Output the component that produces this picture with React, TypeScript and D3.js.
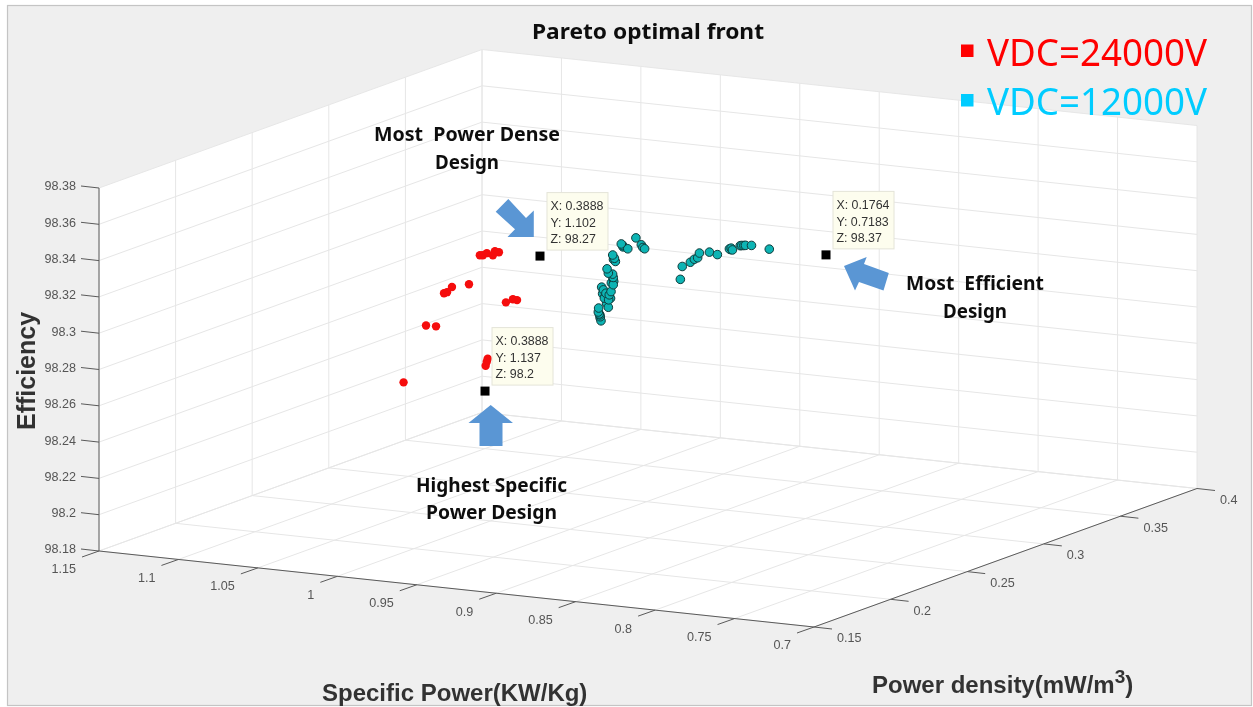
import React from "react";
import * as d3 from "d3";

// ---------- data: [Power density, Specific power, Efficiency] ----------
const specificPowerTicks = [1.15, 1.1, 1.05, 1, 0.95, 0.9, 0.85, 0.8, 0.75, 0.7];
const powerDensityTicks = [0.15, 0.2, 0.25, 0.3, 0.35, 0.4];
const efficiencyTicks = [98.18, 98.2, 98.22, 98.24, 98.26, 98.28, 98.3, 98.32, 98.34, 98.36, 98.38];

const redPoints: number[][] = [
  [0.3375, 1.1391, 98.2167],
  [0.345, 1.1322, 98.2464], [0.345, 1.1259, 98.2465],
  [0.35, 1.1257, 98.2632], [0.35, 1.1238, 98.264], [0.35, 1.1207, 98.2671],
  [0.355, 1.1148, 98.2677],
  [0.365, 1.1176, 98.2803], [0.365, 1.1157, 98.2805], [0.365, 1.1132, 98.2819],
  [0.365, 1.1094, 98.2811], [0.365, 1.1081, 98.2835], [0.365, 1.1056, 98.2831],
  [0.365, 1.1012, 98.2559], [0.365, 1.0968, 98.258], [0.365, 1.0942, 98.2578],
  [0.375, 1.1223, 98.2198], [0.375, 1.1229, 98.2181], [0.375, 1.1236, 98.2158],
];

const tealPoints: number[][] = [
  [0.305, 0.9825, 98.29], [0.305, 0.981, 98.2885], [0.305, 0.9795, 98.2875], [0.305, 0.98, 98.285], [0.305, 0.9775, 98.288],
  [0.305, 0.976, 98.2985], [0.305, 0.977, 98.2965], [0.305, 0.9755, 98.2975], [0.305, 0.984, 98.2765], [0.305, 0.9835, 98.275],
  [0.295, 0.966, 98.3135], [0.295, 0.9648, 98.3125], [0.295, 0.96, 98.321], [0.235, 0.8345, 98.3495],
  [0.305, 0.984, 98.2772], [0.305, 0.9842, 98.2782], [0.305, 0.9846, 98.2787], [0.305, 0.9852, 98.2797], [0.305, 0.985, 98.2819],
  [0.305, 0.9789, 98.2829], [0.305, 0.9814, 98.2877], [0.305, 0.9787, 98.287],
  [0.305, 0.9831, 98.2936], [0.305, 0.982, 98.2922], [0.305, 0.9804, 98.2905], [0.305, 0.9783, 98.2898],
  [0.305, 0.9772, 98.2917], [0.305, 0.9758, 98.2956], [0.305, 0.9758, 98.2996],
  [0.305, 0.9762, 98.3014], [0.305, 0.9789, 98.3017], [0.305, 0.9797, 98.304],
  [0.295, 0.9654, 98.3142], [0.295, 0.9665, 98.3159], [0.295, 0.9601, 98.3217], [0.295, 0.9611, 98.3225],
  [0.295, 0.957, 98.3202], [0.295, 0.9519, 98.3267], [0.295, 0.9485, 98.3232], [0.295, 0.9475, 98.3218], [0.295, 0.9464, 98.3212],
  [0.265, 0.895, 98.3183], [0.265, 0.8938, 98.3255], [0.265, 0.8887, 98.3283], [0.265, 0.8862, 98.3302],
  [0.265, 0.8841, 98.3312], [0.265, 0.883, 98.3339], [0.265, 0.8767, 98.335], [0.265, 0.8717, 98.3341],
  [0.235, 0.8352, 98.3498], [0.235, 0.8341, 98.3503], [0.235, 0.8333, 98.3494],
  [0.235, 0.8284, 98.3522], [0.235, 0.8274, 98.3524], [0.235, 0.8261, 98.3525], [0.235, 0.8251, 98.3527],
  [0.235, 0.8213, 98.353], [0.235, 0.8101, 98.352],
];

const tipPoints: number[][] = [
  [0.3888, 1.1027, 98.274],
  [0.3888, 1.1373, 98.1964],
  [0.1764, 0.7179, 98.3753],
];
const tipTexts = [
  ["X: 0.3888", "Y: 1.102", "Z: 98.27"],
  ["X: 0.3888", "Y: 1.137", "Z: 98.2"],
  ["X: 0.1764", "Y: 0.7183", "Z: 98.37"],
];

// ---------- projection ----------
const ORIGIN = [99, 551];
const sxOfY = d3.scaleLinear().domain([1.15, 0.7]).range([0, 715]);
const syOfY = d3.scaleLinear().domain([1.15, 0.7]).range([0, 76]);
const sxOfX = d3.scaleLinear().domain([0.15, 0.4]).range([0, 383]);
const syOfX = d3.scaleLinear().domain([0.15, 0.4]).range([0, -138.5]);
const syOfZ = d3.scaleLinear().domain([98.18, 98.38]).range([0, -363]);
const project = (x: number, y: number, z: number): [number, number] => [
  ORIGIN[0] + sxOfY(y) + sxOfX(x),
  ORIGIN[1] + syOfY(y) + syOfX(x) + syOfZ(z),
];

const X0 = 0.15, X1 = 0.4, Y0 = 1.15, Y1 = 0.7, Z0 = 98.18, Z1 = 98.38;
const poly = (pts: [number, number][]) => pts.map((p) => p.join(",")).join(" ");

const GRID = "#e6e6e6";
const AXIS = "#5a5a5a";
const LABEL = "#555";
const SANS = "'Liberation Sans', Arial, sans-serif";
const CAL = "'Noto Sans', sans-serif";

type Seg = [[number, number], [number, number]];
const gridSegs: Seg[] = [
  ...efficiencyTicks.flatMap((z): Seg[] => [
    [project(X0, Y0, z), project(X1, Y0, z)],
    [project(X1, Y0, z), project(X1, Y1, z)],
  ]),
  ...powerDensityTicks.flatMap((x): Seg[] => [
    [project(x, Y0, Z0), project(x, Y0, Z1)],
    [project(x, Y0, Z0), project(x, Y1, Z0)],
  ]),
  ...specificPowerTicks.flatMap((y): Seg[] => [
    [project(X1, y, Z0), project(X1, y, Z1)],
    [project(X0, y, Z0), project(X1, y, Z0)],
  ]),
];

const Seg = ({ s, c, w }: { s: Seg; c: string; w: number }) => (
  <line x1={s[0][0]} y1={s[0][1]} x2={s[1][0]} y2={s[1][1]} stroke={c} strokeWidth={w} />
);

const arrows = [
  "495.7,211.7 508.3,199 526,218 533.8,210.5 533.8,237 507.5,237 515,229.3",
  "490.7,405 513,423 502.5,423 502.5,446 479.5,446 479.5,423 468.5,423",
  "844,266 866.7,257 864,264 888.8,273 883.5,290.5 859,282 855,290.5",
];

const Note = ({ x, y, w, t }: { x: number; y: number; w: number; t: string }) => (
  <text x={x} y={y} fontFamily={CAL} fontWeight={700} fontSize={19.5} fill="#111"
    textLength={w} lengthAdjust="spacingAndGlyphs" style={{ whiteSpace: "pre" }}>{t}</text>
);

export default function App() {
  return (
    <svg width={1253} height={707} style={{ position: "absolute", left: 0, top: 0 }}>
      <defs>
        <filter id="soft" x="0" y="0" width="100%" height="100%">
          <feGaussianBlur stdDeviation="0.4" />
        </filter>
      </defs>
      <rect width={1253} height={707} fill="#fff" />
      <rect x={7.5} y={5.5} width={1244} height={700} fill="#efefef" stroke="#c4c4c4" strokeWidth={1.2} />
      <g filter="url(#soft)">
        {/* walls and floor */}
        <polygon fill="#fff" points={poly([project(X0, Y0, Z0), project(X0, Y0, Z1), project(X1, Y0, Z1), project(X1, Y1, Z1), project(X1, Y1, Z0), project(X0, Y1, Z0)])} />
        {gridSegs.map((s, i) => <Seg key={i} s={s} c={GRID} w={1} />)}

        {/* axes */}
        <Seg s={[project(X0, Y0, Z0), project(X0, Y0, Z1)]} c={AXIS} w={1} />
        <Seg s={[project(X0, Y0, Z0), project(X0, Y1, Z0)]} c={AXIS} w={1} />
        <Seg s={[project(X0, Y1, Z0), project(X1, Y1, Z0)]} c={AXIS} w={1} />
        {efficiencyTicks.map((z) => {
          const [px, py] = project(X0, Y0, z);
          return (
            <g key={z}>
              <line x1={px} y1={py} x2={px - 18} y2={py - 2} stroke={AXIS} />
              <text x={px - 23} y={py - 2} dy="0.35em" textAnchor="end" fontFamily={SANS} fontSize={12.6} fill={LABEL}>{z}</text>
            </g>
          );
        })}
        {specificPowerTicks.map((y) => {
          const [px, py] = project(X0, y, Z0);
          return (
            <g key={y}>
              <line x1={px} y1={py} x2={px - 17} y2={py + 6} stroke={AXIS} />
              <text x={px - 23} y={py + 18} dy="0.35em" textAnchor="end" fontFamily={SANS} fontSize={12.6} fill={LABEL}>{y}</text>
            </g>
          );
        })}
        {powerDensityTicks.map((x) => {
          const [px, py] = project(x, Y1, Z0);
          return (
            <g key={x}>
              <line x1={px} y1={py} x2={px + 18} y2={py + 2} stroke={AXIS} />
              <text x={px + 23} y={py + 11} dy="0.35em" fontFamily={SANS} fontSize={12.6} fill={LABEL}>{x}</text>
            </g>
          );
        })}

        {/* points */}
        {redPoints.map((p, i) => {
          const [cx, cy] = project(p[0], p[1], p[2]);
          return <circle key={i} cx={cx} cy={cy} r={4.2} fill="#f50a0a" />;
        })}
        {tealPoints.map((p, i) => {
          const [cx, cy] = project(p[0], p[1], p[2]);
          return <circle key={i} cx={cx} cy={cy} r={4.3} fill="#0db4b4" stroke="#123c3c" strokeWidth={1} />;
        })}

        {/* data tips */}
        {tipPoints.map((p, i) => {
          const [cx, cy] = project(p[0], p[1], p[2]);
          const bx = cx + 7, by = cy - 63.5;
          return (
            <g key={i}>
              <rect x={cx - 4.5} y={cy - 4.5} width={9} height={9} fill="#000" />
              <rect x={bx} y={by} width={61} height={57.5} fill="#fdfdee" stroke="#e4e4d8" />
              {tipTexts[i].map((t, j) => (
                <text key={j} x={bx + 3.4} y={by + 13.3 + j * 16.6} dy="0.35em" fontFamily={SANS} fontSize={12.4} fill="#333">{t}</text>
              ))}
            </g>
          );
        })}

        {/* callout arrows */}
        {arrows.map((a, i) => <polygon key={i} points={a} fill="#5a96d4" />)}

        {/* titles */}
        <text x={532} y={39} fontFamily={CAL} fontWeight={700} fontSize={22} fill="#111" textLength={232} lengthAdjust="spacingAndGlyphs">Pareto optimal front</text>
        <Note x={374} y={141} w={186} t="Most  Power Dense" />
        <Note x={435} y={169} w={64} t="Design" />
        <Note x={416} y={492} w={151} t="Highest Specific" />
        <Note x={426} y={519} w={131} t="Power Design" />
        <Note x={906} y={290} w={138} t="Most  Efficient" />
        <Note x={943} y={318} w={64} t="Design" />

        {/* legend */}
        <rect x={961} y={44.5} width={12.5} height={12.5} fill="#ff0000" />
        <text x={987} y={66} fontFamily={CAL} fontSize={39} fill="#ff0000" textLength={220} lengthAdjust="spacingAndGlyphs">VDC=24000V</text>
        <rect x={961} y={94} width={12.5} height={12.5} fill="#00ccff" />
        <text x={987} y={115} fontFamily={CAL} fontSize={39} fill="#00ccff" textLength={220} lengthAdjust="spacingAndGlyphs">VDC=12000V</text>

        {/* axis labels */}
        <text transform="translate(35,371) rotate(-90)" textAnchor="middle" fontFamily={SANS} fontWeight={700} fontSize={25} fill="#333">Efficiency</text>
        <text x={322} y={701} fontFamily={SANS} fontWeight={700} fontSize={24} fill="#333">Specific Power(KW/Kg)</text>
        <text x={872} y={693} fontFamily={SANS} fontWeight={700} fontSize={24} fill="#333">
          Power density(mW/m<tspan dy={-10} fontSize={19}>3</tspan><tspan dy={10}>)</tspan>
        </text>
      </g>
    </svg>
  );
}
